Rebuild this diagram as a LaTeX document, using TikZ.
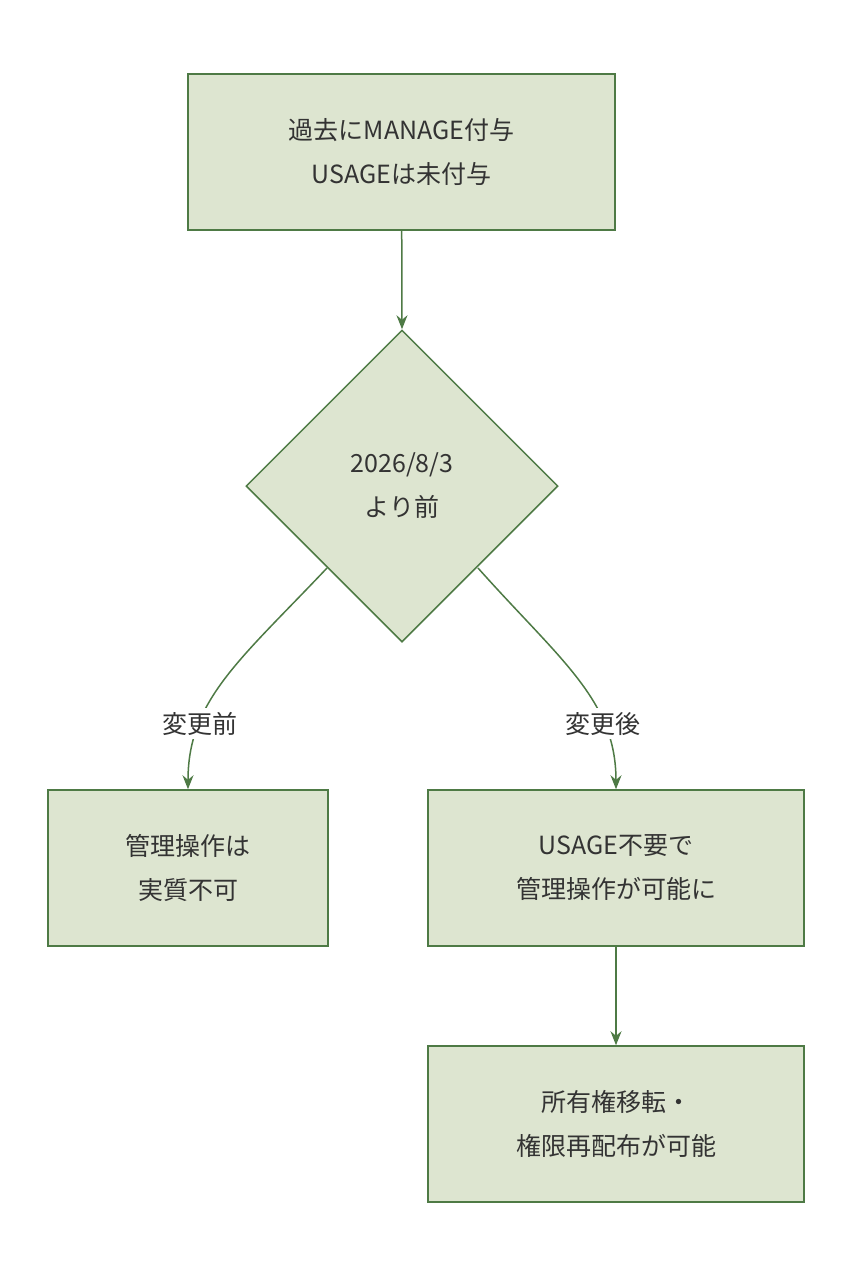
\documentclass[tikz,border=0pt]{standalone}
\usepackage{fontspec}
\setmainfont{Noto Sans CJK JP}
\usetikzlibrary{shapes.geometric,arrows.meta}
\definecolor{fillg}{HTML}{DDE5D0}
\definecolor{lineg}{HTML}{4E7A45}
\definecolor{txt}{HTML}{333333}
\begin{document}
\begin{tikzpicture}[x=1pt,y=-1pt,
  box/.style={draw=lineg,fill=fillg,line width=1.5pt,minimum height=156pt,align=center,text=txt,font=\fontsize{25}{44}\selectfont},
  lbl/.style={fill=white,text=txt,font=\fontsize{25}{30}\selectfont,inner sep=4pt},
  arr/.style={draw=lineg,line width=1.5pt,-{Stealth[length=14pt,width=11pt]}}]
\useasboundingbox (0,0) rectangle (852,1280);
\node[box,minimum width=427pt] (a) at (401.5,152) {過去にMANAGE付与\\USAGEは未付与};
\node[box,diamond,minimum width=312pt,minimum height=312pt,inner sep=0pt,aspect=1] (d) at (402,486) {2026/8/3\\より前};
\node[box,minimum width=280pt] (l) at (188,868) {管理操作は\\実質不可};
\node[box,minimum width=376pt] (r) at (616,868) {USAGE不要で\\管理操作が可能に};
\node[box,minimum width=376pt] (b) at (616,1124) {所有権移転・\\権限再配布が可能};
\coordinate (dl) at (327,568);
\coordinate (dr) at (478,568);
\draw[arr] (a) -- (d.north);
\draw[arr] (dl) .. controls (240,660) and (188,700) .. node[lbl,pos=0.72] {変更前} (l.north);
\draw[arr] (dr) .. controls (560,660) and (616,700) .. node[lbl,pos=0.72] {変更後} (r.north);
\draw[arr] (r) -- (b);
\end{tikzpicture}
\end{document}
